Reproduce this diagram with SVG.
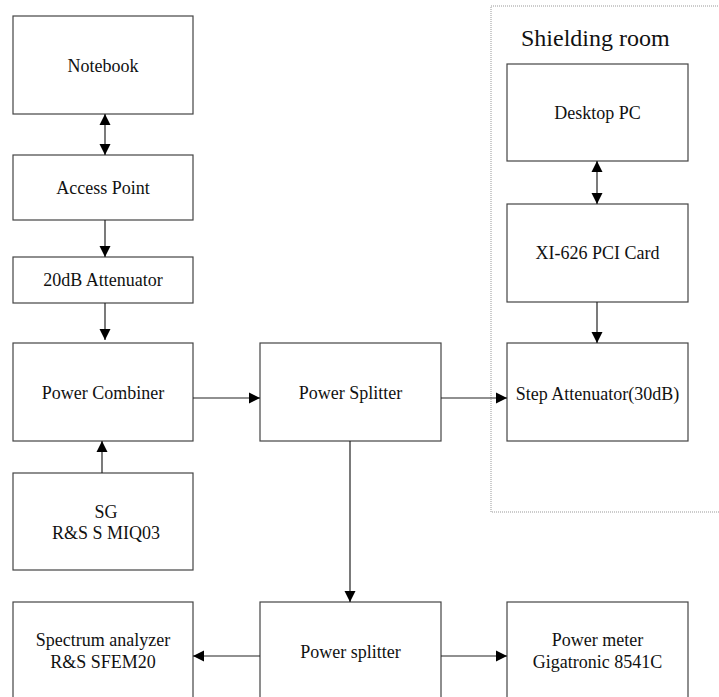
<svg xmlns="http://www.w3.org/2000/svg" width="719" height="697" viewBox="0 0 719 697">
<style>
.box{fill:#fff;stroke:#444;stroke-width:1.2}
.t{font-family:"Liberation Serif","Times New Roman",serif;font-size:18px;fill:#111;text-anchor:middle}
.c{stroke:#222;stroke-width:1.2;fill:none}
</style>
<defs>
<marker id="ah" markerUnits="userSpaceOnUse" markerWidth="12" markerHeight="12" refX="11" refY="6" orient="auto-start-reverse">
<path d="M0,0.5 L11,6 L0,11.5 Z" fill="#000"/>
</marker>
</defs>
<rect width="719" height="697" fill="#fff"/>
<g id="shielding-room">
<rect x="491" y="6" width="240" height="506" fill="none" stroke="#999" stroke-width="1" stroke-dasharray="1,1"/>
<text x="521" y="46" style="font-family:'Liberation Serif','Times New Roman',serif;font-size:24px;fill:#111">Shielding room</text>
</g>
<g id="notebook"><rect class="box" x="13" y="16" width="180" height="98"/><text class="t" x="103" y="72">Notebook</text></g>
<g id="access-point"><rect class="box" x="13" y="155" width="180" height="65"/><text class="t" x="103" y="194">Access Point</text></g>
<g id="attenuator20"><rect class="box" x="13" y="257" width="180" height="46"/><text class="t" x="103" y="286">20dB Attenuator</text></g>
<g id="power-combiner"><rect class="box" x="13" y="343" width="180" height="98"/><text class="t" x="103" y="399">Power Combiner</text></g>
<g id="sg"><rect class="box" x="13" y="473" width="180" height="97"/><text class="t" x="106" y="518">SG</text><text class="t" x="106" y="539">R&amp;S S MIQ03</text></g>
<g id="spectrum-analyzer"><rect class="box" x="13" y="602" width="180" height="110"/><text class="t" x="103" y="646">Spectrum analyzer</text><text class="t" x="103" y="668">R&amp;S SFEM20</text></g>
<g id="power-splitter-top"><rect class="box" x="260" y="343" width="181" height="98"/><text class="t" x="350.5" y="399">Power Splitter</text></g>
<g id="power-splitter-bottom"><rect class="box" x="260" y="602" width="181" height="110"/><text class="t" x="350.5" y="658">Power splitter</text></g>
<g id="power-meter"><rect class="box" x="507" y="602" width="181" height="110"/><text class="t" x="597.5" y="646">Power meter</text><text class="t" x="597.5" y="668">Gigatronic 8541C</text></g>
<g id="desktop-pc"><rect class="box" x="507" y="64" width="181" height="97"/><text class="t" x="597.5" y="119">Desktop PC</text></g>
<g id="pci-card"><rect class="box" x="507" y="204" width="181" height="98"/><text class="t" x="597.5" y="259">XI-626 PCI Card</text></g>
<g id="step-attenuator"><rect class="box" x="507" y="343" width="181" height="98"/><text class="t" x="597.5" y="400">Step Attenuator(30dB)</text></g>
<g id="connectors">
<line class="c" x1="105" y1="114" x2="105" y2="155" marker-start="url(#ah)" marker-end="url(#ah)"/>
<line class="c" x1="105" y1="220" x2="105" y2="257" marker-end="url(#ah)"/>
<line class="c" x1="105" y1="303" x2="105" y2="340" marker-end="url(#ah)"/>
<line class="c" x1="102" y1="473" x2="102" y2="441" marker-end="url(#ah)"/>
<line class="c" x1="193" y1="398" x2="260" y2="398" marker-end="url(#ah)"/>
<line class="c" x1="441" y1="398" x2="507" y2="398" marker-end="url(#ah)"/>
<line class="c" x1="350" y1="441" x2="350" y2="602" marker-end="url(#ah)"/>
<line class="c" x1="260" y1="656" x2="193" y2="656" marker-end="url(#ah)"/>
<line class="c" x1="441" y1="656" x2="507" y2="656" marker-end="url(#ah)"/>
<line class="c" x1="597" y1="161" x2="597" y2="204" marker-start="url(#ah)" marker-end="url(#ah)"/>
<line class="c" x1="597" y1="302" x2="597" y2="343" marker-end="url(#ah)"/>
</g>
</svg>
